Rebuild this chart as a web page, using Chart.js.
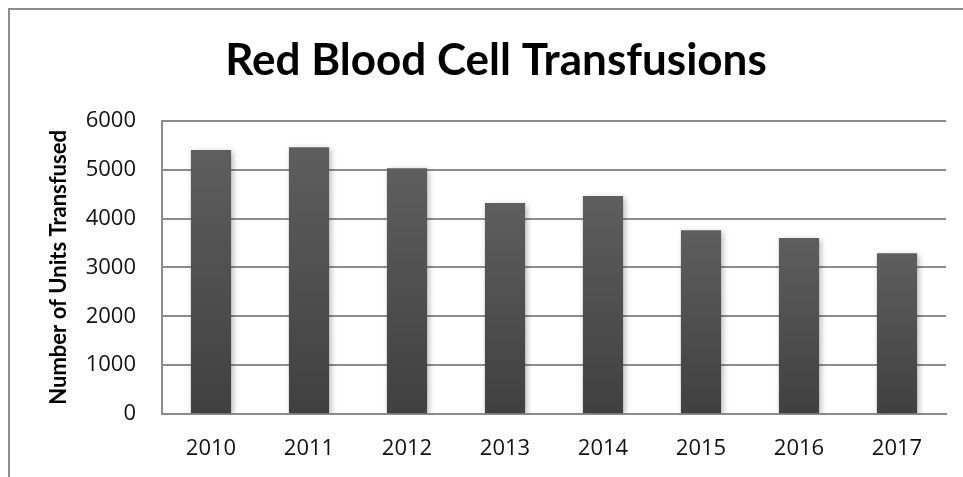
<!DOCTYPE html>
<html>
<head>
<meta charset="utf-8">
<script src="https://cdn.jsdelivr.net/npm/chart.js@4/dist/chart.umd.min.js"></script>
<style>
    html, body { margin: 0; padding: 0; background: #fff; }
    #wrap { width: 963px; height: 477px; position: relative; }
</style>
</head>
<body>
<div id="wrap"><canvas id="rbc-chart" width="963" height="477"></canvas></div>
<script>
const years = ['2010', '2011', '2012', '2013', '2014', '2015', '2016', '2017'];
const unitsTransfused = [5400, 5460, 5030, 4320, 4460, 3760, 3600, 3290];
const yTicks = [0, 1000, 2000, 3000, 4000, 5000, 6000];

const tickFont = { family: 'Open Sans', size: 22 };

// frame round the chart, left and top only (the rest is cut off in the original)
const framePlugin = {
    id: 'frame',
    beforeDraw(chart) {
        const ctx = chart.ctx;
        ctx.save();
        ctx.strokeStyle = '#8c8c8c';
        ctx.lineWidth = 2;
        ctx.beginPath();
        ctx.moveTo(9, chart.height);
        ctx.lineTo(9, 9);
        ctx.lineTo(chart.width, 9);
        ctx.stroke();
        ctx.restore();
    }
};

const shadowPlugin = {
    id: 'barShadow',
    beforeDatasetsDraw(chart) {
        const ctx = chart.ctx;
        ctx.save();
        ctx.shadowColor = 'rgba(0, 0, 0, 0.28)';
        ctx.shadowBlur = 6;
        ctx.shadowOffsetX = 2;
        ctx.shadowOffsetY = 2;
    },
    afterDatasetsDraw(chart) {
        chart.ctx.restore();
    }
};

function barGradient(context) {
    const chart = context.chart;
    if (!chart.chartArea || context.type !== 'data') {
        return '#505050';
    }
    const yScale = chart.scales.y;
    const top = yScale.getPixelForValue(context.raw);
    const base = yScale.getPixelForValue(0);
    if (!isFinite(top) || !isFinite(base) || base - top < 1) {
        return '#505050';
    }
    const g = chart.ctx.createLinearGradient(0, top, 0, base);
    g.addColorStop(0, '#5e5e5e');
    g.addColorStop(1, '#404040');
    return g;
}

new Chart(document.getElementById('rbc-chart'), {
    type: 'bar',
    data: {
        labels: years,
        datasets: [{
            label: 'Number of Units Transfused',
            data: unitsTransfused,
            backgroundColor: barGradient,
            borderWidth: 0,
            barPercentage: 0.41,
            categoryPercentage: 1.0,
        }]
    },
    options: {
        responsive: false,
        animation: false,
        layout: {
            padding: { left: 46, right: 17, top: 0, bottom: 13 }
        },
        plugins: {
            legend: { display: false },
            tooltip: { enabled: false },
            title: {
                display: true,
                text: 'Red Blood Cell Transfusions',
                color: '#000',
                font: { family: 'Lato', size: 44, weight: 'bold', lineHeight: 1.2 },
                padding: { top: 34, bottom: 34 }
            }
        },
        scales: {
            x: {
                grid: { display: false, drawTicks: false },
                border: { display: true, color: '#8c8c8c', width: 2 },
                ticks: { color: '#111', font: tickFont, padding: 22, maxRotation: 0 },
                afterFit(scale) { scale.height = 50; }
            },
            y: {
                min: 0,
                max: 6000,
                afterBuildTicks(scale) {
                    scale.ticks = yTicks.map(v => ({ value: v }));
                },
                grid: { color: '#8c8c8c', lineWidth: 2, drawTicks: false },
                border: { display: true, color: '#8c8c8c', width: 2 },
                ticks: {
                    color: '#111',
                    font: tickFont,
                    padding: 26,
                    callback: value => String(value)
                },
                title: {
                    display: true,
                    text: 'Number of Units Transfused',
                    color: '#000',
                    font: { family: 'Lato', size: 22, weight: 'bold', lineHeight: 1.2 },
                    padding: 0
                },
                afterFit(scale) { scale.width = 116; }
            }
        }
    },
    plugins: [framePlugin, shadowPlugin]
});
</script>
</body>
</html>
